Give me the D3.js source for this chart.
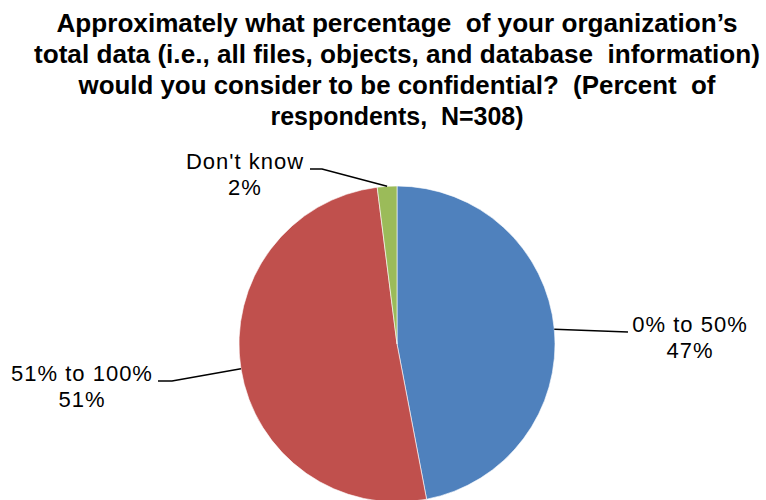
<!DOCTYPE html>
<html>
<head>
<meta charset="utf-8">
<script src="https://cdn.jsdelivr.net/npm/d3@7"></script>
<style>
body{margin:0;background:#fff;}
svg{display:block;}
</style>
</head>
<body>
<script>
// chart data
var titleLines = [
	"Approximately what percentage  of your organization\u2019s",
	"total data (i.e., all files, objects, and database  information)",
	"would you consider to be confidential?  (Percent  of",
	"respondents,  N=308)"
]
var categories = ["0% to 50%", "51% to 100%", "Don't know"]
var values = [47, 51, 2]
var colors = ["#4F81BD", "#C0504D", "#9BBB59"]

var w = 766, h = 500
var cx = 397, cy = 344, r = 158

// label layout: label centre, first baseline, elbow of leader line
var labelLayout = [
	{x: 690, y: 332, elbow: [628, 332], end: [628, 332]},
	{x: 82, y: 381, elbow: [172, 381], end: [158, 381]},
	{x: 245, y: 169, elbow: [322, 169], end: [310, 169]}
]
var titleWidths = [681, 726, 637, 253]

var svg = d3.select("body")
	.append("svg")
	.attr("width", w)
	.attr("height", h)

svg.append("g")
	.selectAll("text")
	.data(titleLines)
	.enter()
	.append("text")
	.attr("x", 397)
	.attr("y", function(d,i){return 32 + i*31})
	.attr("text-anchor", "middle")
	.attr("textLength", function(d,i){return titleWidths[i]})
	.attr("lengthAdjust", "spacingAndGlyphs")
	.style("font-family", "'Liberation Sans', Arial, sans-serif")
	.style("font-weight", "bold")
	.style("font-size", "25px")
	.style("white-space", "pre")
	.attr("fill", "#000")
	.text(function(d){return d})

var pie = d3.pie().sort(null).value(function(d){return d})
var arcs = pie(values)
var arc = d3.arc().innerRadius(0).outerRadius(r)

var g = svg.append("g").attr("transform", "translate(" + cx + "," + cy + ")")

g.selectAll("path")
	.data(arcs)
	.enter()
	.append("path")
	.attr("d", arc)
	.attr("fill", function(d,i){return colors[i]})
	.attr("stroke", "#fff")
	.attr("stroke-width", 0.6)

// leader lines
var outer = d3.arc().innerRadius(r).outerRadius(r)
svg.append("g")
	.selectAll("polyline")
	.data(arcs)
	.enter()
	.append("polyline")
	.attr("points", function(d,i){
		var c = outer.centroid(d)
		var L = labelLayout[i]
		return [[cx + c[0], cy + c[1]], L.elbow, L.end].join(" ")
	})
	.attr("fill", "none")
	.attr("stroke", "#000")
	.attr("stroke-width", 1.5)

var labels = svg.append("g")
	.selectAll("text")
	.data(arcs)
	.enter()
	.append("text")
	.attr("text-anchor", "middle")
	.style("font-family", "'Liberation Sans', Arial, sans-serif")
	.style("font-size", "22px")
	.style("letter-spacing", "1px")
	.attr("fill", "#000")

labels.append("tspan")
	.attr("x", function(d,i){return labelLayout[i].x})
	.attr("y", function(d,i){return labelLayout[i].y})
	.text(function(d,i){return categories[i]})
labels.append("tspan")
	.attr("x", function(d,i){return labelLayout[i].x})
	.attr("y", function(d,i){return labelLayout[i].y + 26})
	.text(function(d,i){return values[i] + "%"})
</script>
</body>
</html>
